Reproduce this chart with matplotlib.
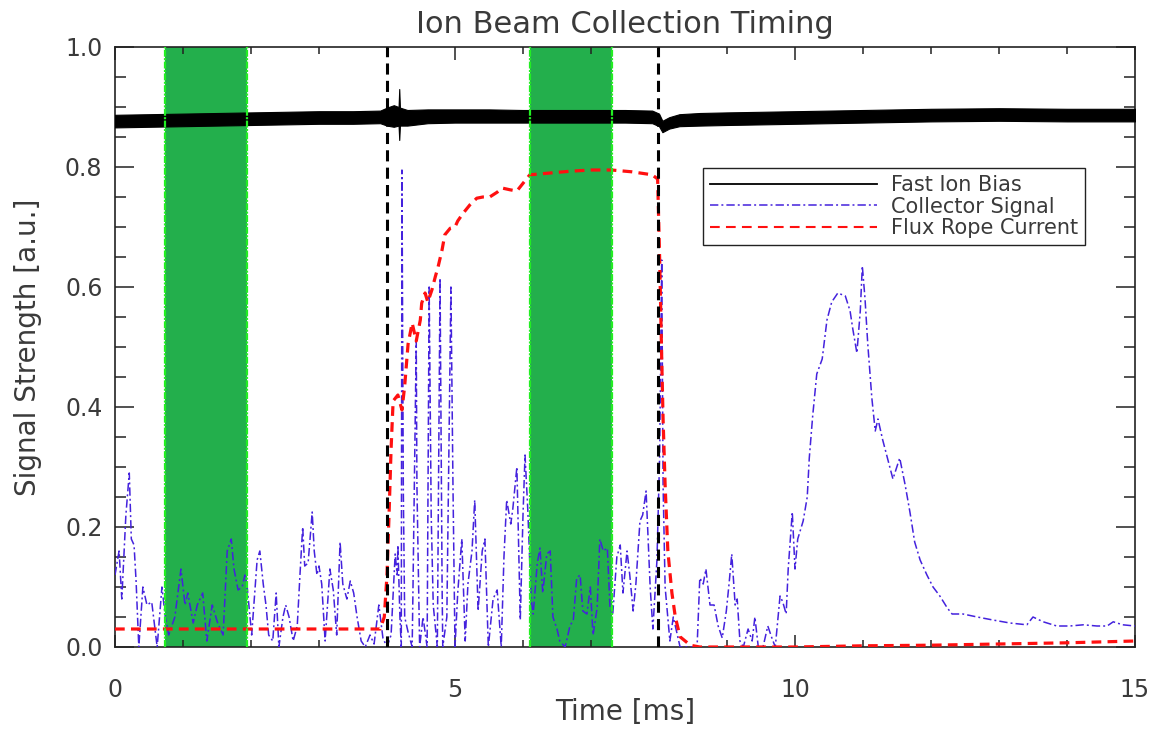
import matplotlib
matplotlib.use("Agg")
import matplotlib.pyplot as plt
from matplotlib.lines import Line2D
from matplotlib.ticker import MultipleLocator

plt.rcParams['font.family'] = ['DejaVu Sans']
plt.rcParams['lines.scale_dashes'] = False

# ---------------------------------------------------------------- data
# Fast ion bias: envelope of the noisy trace (ms, a.u.)
bias_time = [0.0, 0.5, 1.0, 1.5, 2.0, 2.5, 3.0, 3.5, 3.9, 4.0, 4.1, 4.17, 4.18,
             4.19, 4.3, 4.6, 5.0, 5.5, 6.0, 6.5, 7.0, 7.5, 7.9, 8.0, 8.05, 8.15,
             8.3, 8.6, 9.0, 10.0, 11.0, 12.0, 13.0, 14.0, 15.0]
bias_hi = [0.887, 0.888, 0.889, 0.890, 0.891, 0.892, 0.893, 0.893, 0.894, 0.899,
           0.903, 0.900, 0.930, 0.899, 0.895, 0.896, 0.896, 0.896, 0.895, 0.895,
           0.895, 0.895, 0.894, 0.889, 0.877, 0.883, 0.888, 0.890, 0.891, 0.893,
           0.895, 0.897, 0.898, 0.897, 0.897]
bias_lo = [0.866, 0.867, 0.868, 0.869, 0.870, 0.871, 0.872, 0.872, 0.873, 0.869,
           0.867, 0.869, 0.845, 0.869, 0.869, 0.873, 0.874, 0.874, 0.874, 0.874,
           0.874, 0.874, 0.873, 0.868, 0.858, 0.864, 0.868, 0.869, 0.870, 0.872,
           0.874, 0.876, 0.877, 0.876, 0.876]

# Collector signal
collector_time = [
    0.00, 0.06, 0.10, 0.16, 0.21, 0.24, 0.28, 0.31, 0.35, 0.41, 0.47, 0.54, 0.62,
    0.69, 0.74, 0.79, 0.88, 0.97, 1.03, 1.07, 1.15, 1.21, 1.29, 1.35, 1.43, 1.51,
    1.59, 1.65, 1.71, 1.75, 1.81, 1.87, 1.91, 1.94, 2.01, 2.09, 2.13, 2.18, 2.22,
    2.26, 2.32, 2.37, 2.41, 2.47, 2.51, 2.56, 2.62, 2.68, 2.72, 2.76, 2.79, 2.84,
    2.90, 2.93, 2.97, 3.00, 3.04, 3.09, 3.16, 3.21, 3.26, 3.31, 3.35, 3.41, 3.46,
    3.51, 3.56, 3.62, 3.68, 3.75, 3.81, 3.88, 3.94, 4.00, 4.06, 4.12, 4.15, 4.16,
    4.19, 4.21, 4.22, 4.24, 4.26, 4.31, 4.37, 4.38, 4.43, 4.44, 4.48, 4.53, 4.59,
    4.62, 4.65, 4.68, 4.74, 4.78, 4.81, 4.82, 4.88, 4.94, 4.97, 5.00, 5.04, 5.10,
    5.15, 5.19, 5.25, 5.29, 5.34, 5.40, 5.44, 5.49, 5.56, 5.62, 5.68, 5.72, 5.76,
    5.82, 5.85, 5.91, 5.96, 6.00, 6.03, 6.07, 6.12, 6.15, 6.21, 6.25, 6.29, 6.35,
    6.40, 6.44, 6.50, 6.54, 6.62, 6.69, 6.74, 6.79, 6.84, 6.88, 6.94, 6.99, 7.03,
    7.09, 7.13, 7.18, 7.24, 7.28, 7.32, 7.38, 7.43, 7.47, 7.53, 7.57, 7.62, 7.66,
    7.72, 7.76, 7.81, 7.87, 7.91, 7.97, 8.01, 8.04, 8.06, 8.09, 8.16, 8.21, 8.31,
    8.46, 8.56, 8.60, 8.65, 8.69, 8.75, 8.81, 8.87, 8.93, 8.99, 9.03, 9.07, 9.12,
    9.15, 9.19, 9.24, 9.31, 9.37, 9.41, 9.46, 9.53, 9.60, 9.66, 9.71, 9.78, 9.82,
    9.87, 9.90, 9.96, 10.00, 10.04, 10.12, 10.18, 10.21, 10.26, 10.32, 10.40,
    10.47, 10.54, 10.63, 10.74, 10.81, 10.85, 10.91, 10.96, 10.99, 11.03, 11.07,
    11.13, 11.18, 11.22, 11.29, 11.37, 11.44, 11.54, 11.62, 11.69, 11.76, 11.84,
    11.94, 12.03, 12.13, 12.24, 12.31, 12.47, 12.68, 12.91, 13.16, 13.41, 13.50,
    13.65, 13.85, 14.04, 14.24, 14.44, 14.59, 14.68, 14.82, 15.00]
collector_sig = [
    0.12, 0.16, 0.08, 0.22, 0.29, 0.18, 0.17, 0.11, 0.00, 0.10, 0.07, 0.075, 0.00,
    0.10, 0.05, 0.02, 0.05, 0.13, 0.07, 0.09, 0.04, 0.07, 0.09, 0.01, 0.07, 0.04,
    0.02, 0.16, 0.18, 0.13, 0.095, 0.10, 0.12, 0.105, 0.02, 0.145, 0.16, 0.105, 0.07,
    0.02, 0.01, 0.09, 0.00, 0.05, 0.07, 0.05, 0.01, 0.035, 0.12, 0.20, 0.135, 0.14,
    0.225, 0.16, 0.12, 0.135, 0.105, 0.01, 0.13, 0.095, 0.02, 0.175, 0.105, 0.08, 0.11,
    0.09, 0.05, 0.01, 0.00, 0.02, 0.005, 0.07, 0.015, 0.00, 0.02, 0.155, 0.12, 0.17,
    0.05, 0.00, 0.795, 0.26, 0.05, 0.025, 0.00, 0.08, 0.51, 0.27, 0.00, 0.05, 0.00,
    0.60, 0.22, 0.07, 0.00, 0.615, 0.105, 0.00, 0.05, 0.60, 0.27, 0.00, 0.09, 0.18,
    0.01, 0.105, 0.16, 0.245, 0.06, 0.16, 0.18, 0.00, 0.08, 0.095, 0.00, 0.15, 0.245,
    0.205, 0.23, 0.30, 0.045, 0.22, 0.32, 0.23, 0.08, 0.055, 0.14, 0.165, 0.09, 0.155,
    0.16, 0.05, 0.03, 0.01, 0.00, 0.035, 0.045, 0.115, 0.12, 0.06, 0.055, 0.10, 0.02,
    0.065, 0.18, 0.16, 0.165, 0.065, 0.055, 0.15, 0.17, 0.09, 0.16, 0.12, 0.06, 0.105,
    0.21, 0.22, 0.26, 0.10, 0.03, 0.145, 0.32, 0.645, 0.27, 0.10, 0.01, 0.05, 0.00,
    0.00, 0.00, 0.115, 0.105, 0.13, 0.07, 0.07, 0.035, 0.015, 0.06, 0.105, 0.155,
    0.07, 0.08, 0.01, 0.00, 0.03, 0.01, 0.05, 0.00, 0.00, 0.035, 0.015, 0.00, 0.085,
    0.075, 0.055, 0.13, 0.225, 0.13, 0.18, 0.21, 0.25, 0.315, 0.385, 0.455, 0.48,
    0.545, 0.575, 0.59, 0.585, 0.56, 0.53, 0.49, 0.56, 0.635, 0.58, 0.505, 0.415,
    0.36, 0.38, 0.345, 0.31, 0.28, 0.315, 0.27, 0.225, 0.175, 0.145, 0.12, 0.10,
    0.085, 0.065, 0.055, 0.055, 0.05, 0.045, 0.04, 0.037, 0.05, 0.042, 0.035, 0.035,
    0.037, 0.035, 0.035, 0.042, 0.037, 0.035]

# Flux rope current
flux_time = [0.0, 1.0, 2.0, 3.0, 3.9, 3.96, 4.0, 4.03, 4.06, 4.09, 4.16, 4.22, 4.26,
             4.31, 4.37, 4.43, 4.49, 4.51, 4.56, 4.60, 4.66, 4.71, 4.75, 4.81, 4.85,
             4.93, 5.0, 5.04, 5.12, 5.22, 5.32, 5.41, 5.51, 5.62, 5.69, 5.81, 5.91,
             6.1, 6.4, 6.7, 7.0, 7.3, 7.6, 7.9, 7.98, 8.01, 8.04, 8.06, 8.09, 8.13,
             8.19, 8.24, 8.31, 8.46, 8.6, 10.0, 11.0, 12.0, 13.0, 14.0, 15.0]
flux_cur = [0.03, 0.03, 0.03, 0.03, 0.03, 0.05, 0.12, 0.22, 0.33, 0.41, 0.42, 0.395,
            0.435, 0.505, 0.54, 0.51, 0.545, 0.573, 0.59, 0.575, 0.595, 0.617, 0.633,
            0.662, 0.687, 0.698, 0.70, 0.71, 0.723, 0.737, 0.748, 0.75, 0.75, 0.758,
            0.765, 0.762, 0.76, 0.787, 0.79, 0.793, 0.795, 0.795, 0.792, 0.787, 0.78,
            0.645, 0.48, 0.38, 0.27, 0.16, 0.09, 0.05, 0.017, 0.003, 0.0, 0.0, 0.002,
            0.003, 0.005, 0.007, 0.01]

gate_windows = [(0.74, 1.94), (6.10, 7.31)]
trigger_times = [4.0, 7.99]

series_labels = ['Fast Ion Bias', 'Collector Signal', 'Flux Rope Current']

# ---------------------------------------------------------------- styles
TXT = '#3a3a3a'
GATE_FILL = '#23AF4C'
GATE_EDGE = '#22EE22'
BLUE = '#4422DD'
RED = '#FF1010'

fig = plt.figure(figsize=(11.59, 7.29), dpi=100)
ax = fig.add_axes([115 / 1159, 82 / 729, 1020 / 1159, 600 / 729])

for t0, t1 in gate_windows:
    ax.axvspan(t0, t1, color=GATE_FILL, lw=0, zorder=1)

ax.fill_between(bias_time, bias_lo, bias_hi, color='black', lw=0.8,
                edgecolor='black', zorder=3)

ax.plot(collector_time, collector_sig, color=BLUE, lw=1.1,
        dashes=(6, 2.2, 1.4, 2.2), zorder=4)
ax.plot(flux_time, flux_cur, color=RED, lw=2.3, dashes=(7, 4.5), zorder=5)

for t in trigger_times:
    ax.axvline(t, color='black', lw=2.2, dashes=(8, 4.5), zorder=6)

for t0, t1 in gate_windows:
    for t in (t0, t1):
        ax.axvline(t, color=GATE_EDGE, lw=1.6, dashes=(5, 1, 1.5, 1), zorder=7)

ax.set_xlim(0, 15)
ax.set_ylim(0, 1.0)
ax.xaxis.set_major_locator(MultipleLocator(5))
ax.xaxis.set_minor_locator(MultipleLocator(1))
ax.yaxis.set_major_locator(MultipleLocator(0.2))
ax.yaxis.set_minor_locator(MultipleLocator(0.05))
ax.yaxis.set_major_formatter(plt.FuncFormatter(lambda v, p: f'{v:.1f}'))

ax.tick_params(which='both', direction='in', top=True, right=True,
               colors='#222222', width=1.1, labelcolor=TXT, labelsize=17)
ax.tick_params(axis='x', which='major', length=9, pad=22)
ax.tick_params(axis='x', which='minor', length=5)
ax.tick_params(axis='y', which='major', length=14, pad=9)
ax.tick_params(axis='y', which='minor', length=8)
for sp in ax.spines.values():
    sp.set_color('#222222')
    sp.set_linewidth(1.2)

ylabels = ax.get_yticklabels()
ylabels[0].set_va('bottom')
ylabels[-1].set_va('top')

ax.set_title('Ion Beam Collection Timing', fontsize=22, color=TXT, pad=10)
ax.set_xlabel('Time [ms]', fontsize=20, color=TXT)
ax.set_ylabel('Signal Strength [a.u.]', fontsize=20, color=TXT)
ax.xaxis.set_label_coords(0.5, -0.108)
ax.xaxis.label.set_va('center')
ax.yaxis.set_label_coords(-(115 - 28) / 1020, 0.5)
ax.yaxis.label.set_va('center')

handles = [
    Line2D([], [], color='black', lw=1.3),
    Line2D([], [], color=BLUE, lw=1.1, dashes=(6, 2.2, 1.4, 2.2)),
    Line2D([], [], color=RED, lw=1.5, dashes=(7, 4.5)),
]
leg = ax.legend(handles, series_labels, loc='upper right',
                bbox_to_anchor=(0.951, 0.798), borderaxespad=0,
                fontsize=15, handlelength=8.0, handletextpad=0.7,
                labelspacing=0.08, borderpad=0.32, fancybox=False,
                framealpha=1, edgecolor='#222222')
leg.get_frame().set_linewidth(1.0)
for txt in leg.get_texts():
    txt.set_color(TXT)
leg.set_zorder(10)

fig.savefig('out.png', dpi=100)
